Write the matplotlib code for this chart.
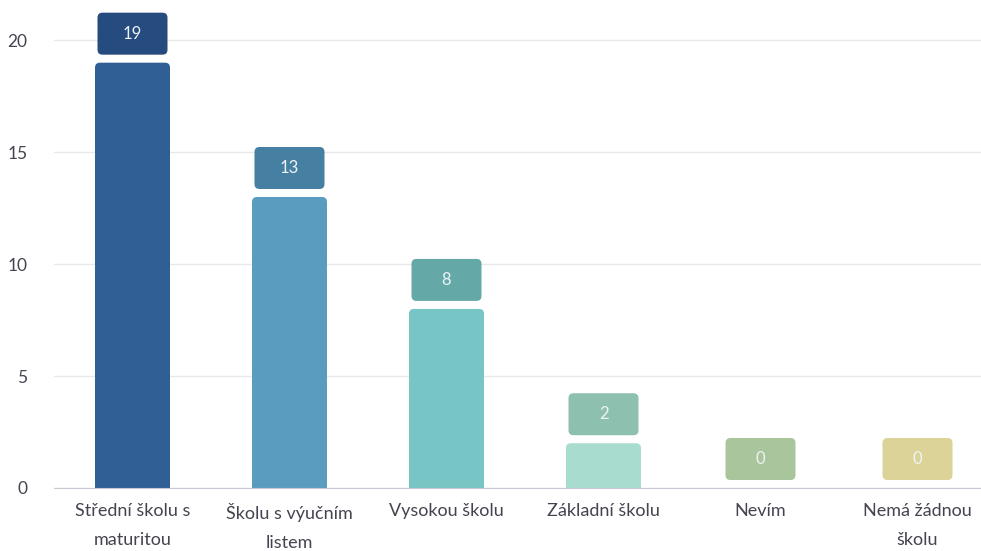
import matplotlib.pyplot as plt
from matplotlib.patches import FancyBboxPatch

plt.rcParams['font.family'] = ['Lato', 'DejaVu Sans']

# data
categories = ["Střední školu s\nmaturitou", "Školu s výučním\nlistem", "Vysokou školu",
              "Základní školu", "Nevím", "Nemá žádnou\nškolu"]
values = [19, 13, 8, 2, 0, 0]
bar_colors = ["#2f5f95", "#5a9bc0", "#77c5c4", "#a8dccf", "#bcd6b0", "#e6dfa8"]
box_colors = ["#264b7f", "#457fa1", "#64a9a7", "#8dc0ae", "#a9c59c", "#dcd398"]

fig = plt.figure(figsize=(9.81, 5.51), dpi=100)
# category step is ~157 px, so the axes runs a little past the right edge
ax = fig.add_axes([54 / 981, 63 / 551, 942 / 981, 488 / 551])

ymax = 21.8
ax.set_xlim(-0.5, 5.5)
ax.set_ylim(0, ymax)

# pixels per data unit, used to keep the corners round
px_x = 942 / 6
px_y = 488 / ymax
aspect = px_x / px_y
r = 5 / px_x

bar_w = 75 / px_x
box_w = 70 / px_x
box_h = 42 / px_y
gap = 8 / px_y

for i, v in enumerate(values):
    if v > 0:
        bar = FancyBboxPatch((i - bar_w / 2, -1), bar_w, v + 1,
                             boxstyle=f"round,pad=0,rounding_size={r}",
                             mutation_aspect=aspect, fc=bar_colors[i], ec="none", zorder=3)
        ax.add_patch(bar)
    by = v + gap
    box = FancyBboxPatch((i - box_w / 2, by), box_w, box_h,
                         boxstyle=f"round,pad=0,rounding_size={r}",
                         mutation_aspect=aspect, fc=box_colors[i], ec="none", zorder=3)
    ax.add_patch(box)
    ax.text(i, by + box_h / 2, str(v), ha="center", va="center",
            color="#eef3f6", fontsize=12, zorder=4)

ax.set_yticks([0, 5, 10, 15, 20])
ax.grid(axis="y", color="#e9e9ec", lw=1, zorder=0)
ax.set_xticks(range(len(categories)))
ax.set_xticklabels(categories, linespacing=1.95, va="top")
ax.tick_params(axis="both", length=0, labelsize=13, labelcolor="#444450")
ax.tick_params(axis="y", labelsize=12.5, pad=19)
ax.tick_params(axis="x", pad=11)

for s in ["top", "right", "left"]:
    ax.spines[s].set_visible(False)
ax.spines["bottom"].set_color("#c9c9d3")
ax.spines["bottom"].set_zorder(5)

fig.savefig("out.png", dpi=100)
